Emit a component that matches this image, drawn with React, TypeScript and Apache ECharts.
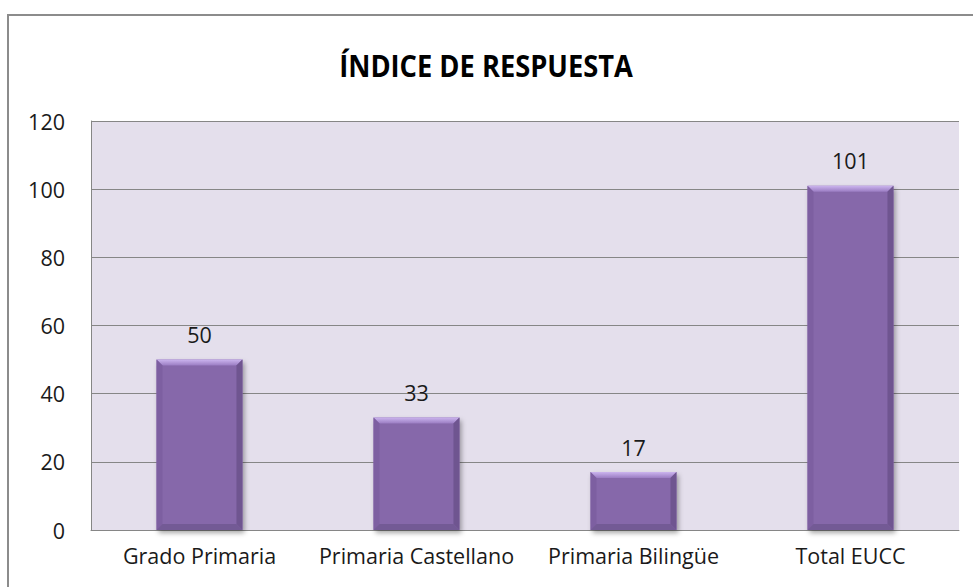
import React, { useEffect, useRef } from "react";
import * as echarts from "echarts";

const categories = ["Grado Primaria", "Primaria Castellano", "Primaria Bilingüe", "Total EUCC"];
const values = [50, 33, 17, 101];
const yTicks = [0, 20, 40, 60, 80, 100, 120];
const titleText = "ÍNDICE DE RESPUESTA";

export default function App() {
  const ref = useRef<HTMLDivElement>(null);
  useEffect(() => {
    if (!ref.current) return;
    const chart = echarts.init(ref.current, null, { renderer: "svg" });
    const font = "'Open Sans', 'Noto Sans', sans-serif";
    const option: any = {
      animation: false,
      backgroundColor: "#ffffff",
      graphic: [
        {
          type: "rect",
          shape: { x: 8, y: 15, width: 980, height: 590 },
          style: { fill: "none", stroke: "#8c8c8c", lineWidth: 2 },
          z: 0,
          silent: true,
        },
        {
          type: "text",
          x: 486,
          y: 65,
          scaleX: 0.88,
          style: {
            text: titleText,
            fontFamily: font,
            fontWeight: "bold",
            fontSize: 31,
            fill: "#000000",
            textAlign: "center",
            textVerticalAlign: "middle",
          },
          z: 10,
        },
      ],
      grid: {
        left: 91,
        right: 14,
        top: 121,
        bottom: 57,
        show: true,
        backgroundColor: "#e4dfec",
        borderWidth: 0,
      },
      xAxis: {
        type: "category",
        data: categories,
        axisLine: { show: true, lineStyle: { color: "#868686", width: 1 } },
        axisTick: { show: false },
        axisLabel: {
          color: "#1a1a1a",
          fontFamily: font,
          fontSize: 21.5,
          margin: 14,
          interval: 0,
          hideOverlap: false,
        },
        splitLine: { show: false },
      },
      yAxis: {
        type: "value",
        min: yTicks[0],
        max: yTicks[yTicks.length - 1],
        interval: 20,
        axisLine: { show: true, lineStyle: { color: "#868686", width: 1 } },
        axisTick: { show: false },
        axisLabel: { color: "#1a1a1a", fontFamily: font, fontSize: 21.5, margin: 26 },
        splitLine: { show: true, lineStyle: { color: "#868686", width: 1 } },
      },
      series: [
        {
          type: "custom",
          data: values.map((v, i) => [i, v]),
          encode: { x: 0, y: 1 },
          z: 5,
          renderItem: (params: any, api: any) => {
            const idx = api.value(0);
            const v = api.value(1);
            const top = api.coord([idx, v]);
            const base = api.coord([idx, 0]);
            const bw = api.size([1, 0])[0] * 0.396;
            const x0 = top[0] - bw / 2;
            const x1 = top[0] + bw / 2;
            const y0 = top[1];
            const y1 = base[1];
            const b = 6;
            return {
              type: "group",
              children: [
                {
                  type: "rect",
                  shape: { x: x0, y: y0, width: bw, height: y1 - y0 },
                  style: {
                    fill: "#8667aa",
                    shadowBlur: 5,
                    shadowOffsetX: 2,
                    shadowOffsetY: 3,
                    shadowColor: "rgba(0,0,0,0.35)",
                  },
                },
                {
                  type: "polygon",
                  shape: { points: [[x0, y0], [x1, y0], [x1 - b, y0 + b], [x0 + b, y0 + b]] },
                  style: {
                    fill: new echarts.graphic.LinearGradient(0, 0, 0, 1, [
                      { offset: 0, color: "#cbb4ee" },
                      { offset: 1, color: "#9a7cc2" },
                    ]),
                  },
                },
                {
                  type: "polygon",
                  shape: { points: [[x0, y0], [x0 + b, y0 + b], [x0 + b, y1 - b], [x0, y1]] },
                  style: { fill: "#7d5fa1" },
                },
                {
                  type: "polygon",
                  shape: { points: [[x1, y0], [x1 - b, y0 + b], [x1 - b, y1 - b], [x1, y1]] },
                  style: { fill: "#6f5590" },
                },
                {
                  type: "polygon",
                  shape: { points: [[x0, y1], [x0 + b, y1 - b], [x1 - b, y1 - b], [x1, y1]] },
                  style: { fill: "#735a95" },
                },
                {
                  type: "text",
                  x: top[0],
                  y: y0 - 14,
                  style: {
                    text: String(v),
                    fontFamily: font,
                    fontSize: 21.5,
                    fill: "#1a1a1a",
                    textAlign: "center",
                    textVerticalAlign: "bottom",
                  },
                },
              ],
            };
          },
        },
      ],
    };
    chart.setOption(option);
    return () => chart.dispose();
  }, []);
  return (
    <div
      ref={ref}
      style={{ position: "fixed", left: 0, top: 0, width: 973, height: 587 }}
    />
  );
}
